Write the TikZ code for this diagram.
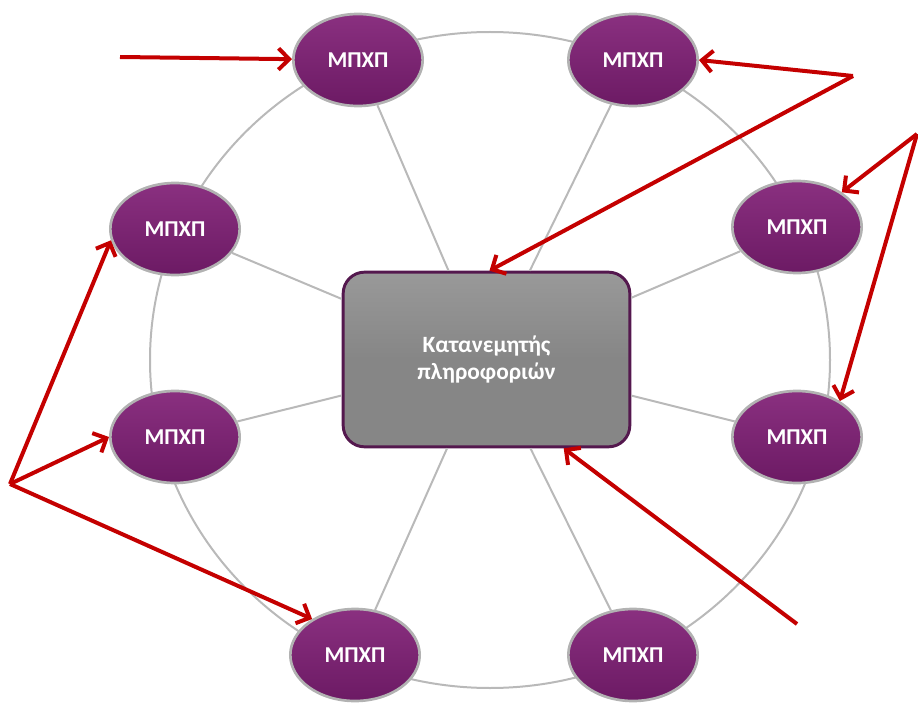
\documentclass[tikz,border=0pt]{standalone}
\usepackage{fontspec}
\setmainfont{Carlito}
\usetikzlibrary{arrows.meta,positioning,shapes.geometric,calc}

\definecolor{unittop}{RGB}{138,48,128}
\definecolor{unitbot}{RGB}{108,26,100}
\definecolor{hubline}{RGB}{84,24,78}
\definecolor{ringgray}{RGB}{185,185,185}
\definecolor{pointred}{RGB}{196,0,0}

\begin{document}
\begin{tikzpicture}[
    x=0.75pt, y=-0.75pt,
    unit/.style={ellipse, draw=gray!60, line width=2pt, top color=unittop, bottom color=unitbot,
        minimum width=97pt, minimum height=69pt, inner sep=0pt, text=white,
        font=\bfseries\fontsize{17}{20}\selectfont},
    hub/.style={rectangle, draw=hubline, line width=2.2pt, rounded corners=16pt,
        top color=gray!80, bottom color=gray!95, middle color=gray!95,
        minimum width=215pt, minimum height=131pt, align=center, text=white,
        font=\bfseries\fontsize{17.5}{20.5}\selectfont},
    ring/.style={draw=ringgray, line width=1.5pt},
    pointer/.style={-{Straight Barb[length=8pt,width=16pt]}, line width=3pt, draw=pointred}
]
\useasboundingbox (0,0) rectangle (918,706);

% ring behind the units
\draw[ring] (490,360) ellipse [x radius=340, y radius=328];

\node[hub] (hub) at (486.5,359.5) {Κατανεμητής\\πληροφοριών};

\node[unit] (tl) at (358,60) {ΜΠΧΠ};
\node[unit] (tr) at (633,60) {ΜΠΧΠ};
\node[unit] (ru) at (797,227) {ΜΠΧΠ};
\node[unit] (rl) at (797,437) {ΜΠΧΠ};
\node[unit] (br) at (633,655) {ΜΠΧΠ};
\node[unit] (bl) at (355,655) {ΜΠΧΠ};
\node[unit] (ll) at (175,437) {ΜΠΧΠ};
\node[unit] (lu) at (175,229) {ΜΠΧΠ};

% spokes
\draw[ring] (tl) -- (hub);
\draw[ring] (tr) -- (hub);
\draw[ring] (ru) -- (hub);
\draw[ring] (rl) -- (hub);
\draw[ring] (br) -- (hub);
\draw[ring] (bl) -- (hub);
\draw[ring] (ll) -- (hub);
\draw[ring] (lu) -- (hub);

% red pointers
\coordinate (srcA) at (120,57);
\coordinate (srcB) at (853,76);
\coordinate (srcC) at (917,134);
\coordinate (srcD) at (797,624);
\coordinate (srcE) at (10,484);

\draw[pointer] (srcA) -- (tl);
\draw[pointer] (srcB) -- (tr.east);
\draw[pointer] (srcB) -- ($(hub.north)+(3,0)$);
\draw[pointer] (srcC) -- (ru);
\draw[pointer] (srcC) -- (rl.40);
\draw[pointer] (srcD) -- (hub.-49);
\draw[pointer] (srcE) -- (lu.190);
\draw[pointer] (srcE) -- (ll.west);
\draw[pointer] (srcE) -- (bl.140);
\end{tikzpicture}
\end{document}
